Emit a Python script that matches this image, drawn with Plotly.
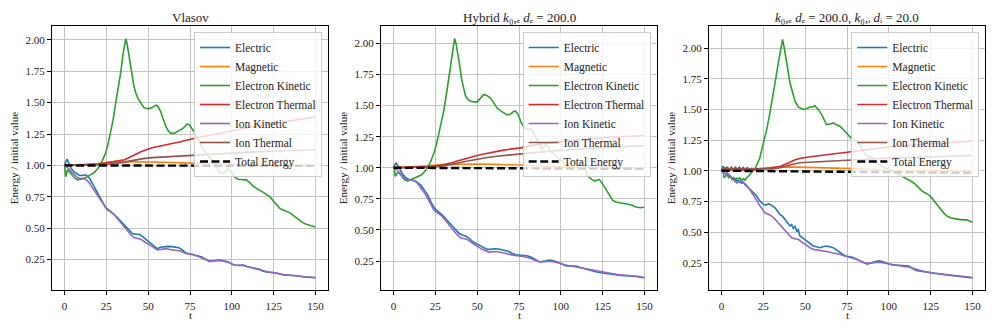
import plotly.graph_objects as go

# ---------------- data (t, energy / initial value) ----------------
TITLES = ["Vlasov",
          "Hybrid <i>k</i>₀,ₑ <i>d</i>ₑ = 200.0",
          "<i>k</i>₀,ₑ <i>d</i>ₑ = 200.0, <i>k</i>₀,ᵢ <i>d</i>ᵢ = 20.0"]
SERIES_NAMES = ["Electric", "Magnetic", "Electron Kinetic", "Electron Thermal",
                "Ion Kinetic", "Ion Thermal", "Total Energy"]
X_LABEL = "t"
Y_LABEL = "Energy / initial value"
X_TICKS = [0, 25, 50, 75, 100, 125, 150]
Y_TICKS = [0.25, 0.50, 0.75, 1.00, 1.25, 1.50, 1.75, 2.00]

# ---- Panel 1: Vlasov ----
vlasov_electric = [(0, 1.0), (0.8, 1.03), (1.5, 1.05), (2.5, 1.02), (3.8, 0.98), (5.5, 0.95), (7.7, 0.93), (9, 0.92),
    (10.7, 0.92), (12.7, 0.925), (14.7, 0.903), (16, 0.875), (17.7, 0.837), (19, 0.80), (20.7, 0.757), (22.5, 0.71),
    (24.6, 0.664), (26.5, 0.645), (28.6, 0.624), (30.5, 0.598), (32.6, 0.571), (34.5, 0.545), (36.5, 0.518),
    (38.5, 0.49), (40.5, 0.457), (42.5, 0.452), (44.5, 0.452), (46.5, 0.435), (48.5, 0.412), (50.5, 0.39),
    (52.4, 0.372), (54, 0.35), (55.4, 0.337), (57.5, 0.348), (59.4, 0.353), (62, 0.355), (64.4, 0.353), (66.5, 0.35),
    (68.4, 0.345), (70.5, 0.325), (72.3, 0.305), (74.5, 0.296), (76.3, 0.292), (78, 0.285), (79.9, 0.279), (82, 0.27),
    (84.5, 0.25), (86.8, 0.234), (89, 0.24), (91, 0.246), (92.8, 0.247), (95, 0.24), (97.7, 0.231), (100, 0.215),
    (101.7, 0.205), (104, 0.205), (106.7, 0.207), (109, 0.195), (111.6, 0.186), (114, 0.18), (116.6, 0.173),
    (118.5, 0.16), (120.6, 0.151), (123, 0.148), (125.6, 0.146), (128.5, 0.135), (131.5, 0.125), (134, 0.127),
    (137.5, 0.125), (140, 0.12), (143.4, 0.112), (146.5, 0.107), (150, 0.106)]
vlasov_magnetic = [(0, 1.0), (10, 1.003), (20, 1.015), (25, 1.025), (30, 1.03), (35, 1.03), (40, 1.03), (50, 1.03),
    (60, 1.025), (70, 1.02), (80, 1.015), (90, 1.01), (100, 1.008), (110, 1.005), (120, 1.003), (130, 1.002),
    (140, 1.0), (150, 1.0)]
vlasov_electron_kinetic = [(0, 1.00), (0.7, 0.91), (1.8, 0.965), (4, 0.93), (6, 0.90), (7.7, 0.885), (10, 0.89),
    (12.7, 0.903), (15, 0.92), (17.7, 0.943), (19.5, 0.97), (21.6, 1.01), (23, 1.05), (24.6, 1.10), (26, 1.17),
    (27.6, 1.26), (29, 1.36), (30.6, 1.50), (32, 1.61), (33.6, 1.74), (35, 1.89), (35.6, 1.94), (36.7, 2.01),
    (37.5, 1.96), (38.5, 1.87), (39.5, 1.79), (40.5, 1.71), (41.5, 1.63), (42.5, 1.58), (44, 1.53), (45.5, 1.50),
    (47.5, 1.46), (49.9, 1.45), (52.4, 1.46), (54, 1.475), (55, 1.48), (56, 1.465), (57.4, 1.43), (59, 1.37),
    (60.4, 1.315), (62, 1.275), (63.4, 1.257), (65, 1.255), (66.3, 1.26), (68, 1.275), (70.3, 1.29), (72, 1.31),
    (73.3, 1.33), (74.5, 1.325), (75.9, 1.30), (77.9, 1.26), (79.5, 1.21), (81.8, 1.155), (83.8, 1.11),
    (85.8, 1.076), (87.8, 1.05), (89.8, 1.02), (91.5, 0.97), (92.8, 0.945), (94.8, 0.935), (96.5, 0.955),
    (97.7, 0.97), (99, 0.96), (100.7, 0.93), (102, 0.905), (103.7, 0.89), (106, 0.885), (108.7, 0.885),
    (110.5, 0.865), (112.6, 0.837), (115, 0.815), (117.6, 0.797), (120, 0.775), (122.6, 0.751), (124.5, 0.72),
    (126.5, 0.69), (128.5, 0.66), (130.5, 0.645), (132.5, 0.635), (134.5, 0.624), (136.5, 0.605), (138.4, 0.584),
    (140.5, 0.56), (142.4, 0.544), (144.5, 0.532), (146.4, 0.526), (148.3, 0.518), (150, 0.51)]
vlasov_electron_thermal = [(0, 1.0), (10, 1.003), (20, 1.01), (25, 1.02), (30, 1.03), (33, 1.035), (36, 1.045),
    (39, 1.065), (42.5, 1.09), (46, 1.11), (52.4, 1.14), (60, 1.16), (65, 1.175), (70, 1.19), (76, 1.21),
    (85, 1.235), (95, 1.265), (105, 1.29), (115, 1.315), (125, 1.335), (135, 1.355), (142, 1.37), (150, 1.385)]
vlasov_ion_kinetic = [(0, 1.0), (2, 0.98), (4.7, 0.94), (7.7, 0.903), (9.5, 0.895), (11.7, 0.895), (13, 0.885),
    (14.7, 0.863), (16.5, 0.825), (18.7, 0.783), (20.5, 0.745), (22.6, 0.704), (25.6, 0.646), (27.5, 0.63),
    (29.6, 0.611), (31.5, 0.58), (33.6, 0.544), (35.5, 0.51), (37.5, 0.478), (39.5, 0.45), (41.5, 0.425),
    (43.5, 0.42), (45.5, 0.412), (48, 0.39), (50.4, 0.372), (53, 0.35), (55.4, 0.327), (57.5, 0.333),
    (60.4, 0.337), (63, 0.33), (65.4, 0.327), (67.5, 0.324), (69.3, 0.319), (71.5, 0.305), (73.3, 0.297),
    (76.3, 0.292), (79, 0.28), (82, 0.265), (84.5, 0.25), (87, 0.238), (90, 0.24), (92.8, 0.243), (95, 0.238),
    (97.7, 0.23), (100, 0.215), (102, 0.205), (104.5, 0.203), (107, 0.203), (109.5, 0.193), (112, 0.186),
    (114.5, 0.18), (117, 0.172), (119.5, 0.16), (122, 0.152), (125, 0.147), (128, 0.14), (131, 0.13),
    (134, 0.127), (137.5, 0.125), (140, 0.118), (143.4, 0.113), (146.5, 0.11), (150, 0.108)]
vlasov_ion_thermal = [(0, 1.0), (10, 1.0), (20, 1.005), (25, 1.01), (30, 1.015), (34.6, 1.022), (38, 1.032),
    (42.5, 1.044), (47, 1.054), (52.4, 1.062), (60, 1.068), (68, 1.075), (76, 1.08), (85, 1.088), (95, 1.096),
    (105, 1.102), (115, 1.108), (125, 1.113), (135, 1.117), (150, 1.123)]
vlasov_total = [(0, 1.0), (25, 1.0), (50, 0.999), (75, 0.998), (100, 0.997), (125, 0.997), (150, 0.996)]

# ---- Panel 2: Hybrid k0e de = 200 ----
hybrid_electric = [(0, 1.0), (0.7, 1.02), (1.4, 1.04), (2.4, 1.02), (3.4, 1.0), (5, 0.955), (7.3, 0.92),
    (9.3, 0.905), (11.3, 0.90), (13.5, 0.89), (16.3, 0.86), (18.3, 0.825), (20.2, 0.786), (22.2, 0.73),
    (24.2, 0.68), (25.7, 0.66), (27.2, 0.644), (29.2, 0.62), (31.2, 0.59), (33.2, 0.56), (35.1, 0.531),
    (37.1, 0.50), (39.1, 0.473), (41, 0.46), (43, 0.451), (45, 0.435), (47, 0.41), (49.5, 0.39), (52, 0.37),
    (54, 0.355), (56, 0.344), (58.5, 0.346), (60.9, 0.349), (63.4, 0.345), (65.9, 0.339), (68.4, 0.328),
    (70.8, 0.312), (73, 0.3), (76.4, 0.296), (78.4, 0.293), (80.4, 0.29), (82.4, 0.28), (84.8, 0.26),
    (87.3, 0.242), (90.3, 0.25), (93.3, 0.258), (96.2, 0.25), (99.2, 0.236), (101.2, 0.222), (103.2, 0.21),
    (106.2, 0.21), (109.1, 0.21), (111.6, 0.198), (114.1, 0.188), (116.5, 0.178), (119, 0.17), (121.5, 0.162),
    (124, 0.156), (127, 0.15), (130, 0.143), (133, 0.138), (136, 0.135), (139, 0.132), (141.9, 0.13),
    (145, 0.125), (147.5, 0.12), (150, 0.116)]
hybrid_magnetic = [(0, 1.0), (10, 1.005), (20, 1.015), (30, 1.025), (40, 1.03), (50, 1.03), (60, 1.027),
    (70, 1.025), (80, 1.02), (90, 1.012), (100, 1.005), (110, 1.003), (120, 1.0), (135, 0.998), (150, 0.997)]
hybrid_electron_kinetic = [(0, 1.0), (0.5, 0.99), (1, 0.93), (2, 0.955), (3.4, 0.96), (5, 0.93), (6.5, 0.905),
    (8.3, 0.893), (10.3, 0.905), (12.3, 0.912), (14.3, 0.925), (16.3, 0.94), (18.3, 0.965), (20.2, 1.0),
    (22.2, 1.05), (24.2, 1.12), (25.7, 1.19), (27.2, 1.28), (28.7, 1.37), (30.2, 1.47), (31.7, 1.6), (33.1, 1.74),
    (34.5, 1.87), (35.5, 1.95), (36.5, 2.04), (37.5, 1.99), (38.5, 1.92), (39.6, 1.82), (40.7, 1.71), (42, 1.63),
    (43, 1.58), (44.5, 1.55), (46, 1.535), (48, 1.53), (50, 1.53), (52, 1.56), (54, 1.59), (56, 1.58),
    (57.9, 1.56), (60, 1.52), (61.9, 1.48), (63.9, 1.46), (65.9, 1.44), (67.8, 1.425), (69.8, 1.43),
    (71.5, 1.45), (72.8, 1.456), (74.4, 1.43), (76.4, 1.36), (78.4, 1.32), (80.3, 1.31), (82.3, 1.31),
    (84.3, 1.26), (86.3, 1.215), (88.3, 1.15), (89.8, 1.17), (91.3, 1.19), (92.8, 1.16), (94.2, 1.126),
    (96.2, 1.11), (98.2, 1.08), (100.7, 1.05), (103.2, 1.02), (104.7, 1.025), (106.2, 1.04), (108.2, 1.055),
    (110.1, 1.062), (111.6, 1.055), (113.1, 1.04), (114.6, 0.98), (116.1, 0.933), (118.1, 0.91), (120.1, 0.893),
    (121.5, 0.9), (123, 0.907), (125, 0.87), (127, 0.826), (129, 0.78), (131, 0.738), (132.9, 0.725),
    (134.9, 0.719), (137.4, 0.712), (139.9, 0.706), (142.4, 0.7), (144.8, 0.684), (147.5, 0.678), (150, 0.683)]
hybrid_electron_thermal = [(0, 1.0), (10, 1.002), (20, 1.008), (28, 1.02), (32, 1.03), (35, 1.04), (38, 1.055),
    (41, 1.067), (45, 1.08), (49, 1.094), (54, 1.11), (59, 1.126), (65, 1.14), (70, 1.15), (76, 1.16), (83, 1.18),
    (90.3, 1.196), (100, 1.21), (110, 1.225), (120, 1.235), (130, 1.245), (140, 1.252), (150, 1.26)]
hybrid_ion_kinetic = [(0, 1.0), (2, 0.985), (4, 0.95), (7.3, 0.907), (9.8, 0.9), (12.3, 0.9), (14.3, 0.875),
    (16.3, 0.84), (18.3, 0.80), (20.2, 0.76), (22.2, 0.71), (24.2, 0.658), (26.2, 0.638), (28.2, 0.62),
    (30.2, 0.59), (32.1, 0.558), (34.1, 0.525), (36.1, 0.491), (38.1, 0.46), (40.1, 0.437), (42, 0.428),
    (44, 0.424), (46, 0.405), (48, 0.384), (50.5, 0.365), (53, 0.344), (55, 0.33), (57, 0.322), (59.5, 0.324),
    (61.9, 0.325), (64.4, 0.318), (66.9, 0.309), (69.4, 0.303), (71.8, 0.296), (74, 0.293), (76.4, 0.29),
    (79, 0.283), (82, 0.27), (84.5, 0.255), (87.3, 0.242), (90.3, 0.245), (93.3, 0.248), (96.2, 0.243),
    (99.2, 0.235), (102, 0.22), (105, 0.212), (108, 0.208), (111, 0.2), (114, 0.193), (117, 0.182), (120, 0.172),
    (123, 0.163), (126, 0.157), (129, 0.15), (132, 0.145), (135, 0.14), (138, 0.137), (141, 0.135), (144, 0.13),
    (147, 0.125), (150, 0.118)]
hybrid_ion_thermal = [(0, 1.0), (10, 1.0), (20, 1.005), (28, 1.012), (32, 1.02), (35, 1.027), (42, 1.048),
    (49, 1.067), (56, 1.082), (63, 1.095), (70, 1.105), (76.4, 1.11), (85, 1.125), (95, 1.135), (105, 1.145),
    (115, 1.155), (125, 1.162), (135, 1.168), (150, 1.178)]
hybrid_total = [(0, 1.0), (25, 0.999), (50, 0.997), (75, 0.995), (100, 0.993), (125, 0.992), (150, 0.991)]

# ---- Panel 3: k0e de = 200, k0i di = 20 ----
full_electric = [(0, 1.0), (0.8, 1.04), (1.5, 1.0), (2.3, 1.03), (3.2, 0.983), (4.2, 0.97), (5.2, 0.95),
    (6.2, 0.94), (7.2, 0.93), (8.2, 0.935), (9.2, 0.915), (10.2, 0.925), (11.1, 0.905), (12.1, 0.90),
    (13.1, 0.905), (14.1, 0.885), (15.1, 0.875), (16.6, 0.855), (18.1, 0.834), (19.6, 0.81), (21.1, 0.793),
    (22.5, 0.76), (24, 0.735), (25, 0.726), (26.5, 0.72), (28, 0.73), (29, 0.726), (30.5, 0.71), (32, 0.698),
    (33.5, 0.67), (34.9, 0.644), (36.4, 0.63), (37.9, 0.604), (39.4, 0.58), (40.9, 0.55), (41.9, 0.56),
    (42.9, 0.53), (43.9, 0.545), (44.9, 0.51), (45.9, 0.52), (46.8, 0.468), (48.3, 0.455), (49.8, 0.44),
    (50.8, 0.427), (52.8, 0.405), (54.8, 0.387), (56.7, 0.38), (58.7, 0.373), (60.7, 0.38), (62.7, 0.387),
    (64.7, 0.38), (66.7, 0.373), (68.7, 0.355), (70.7, 0.332), (72.5, 0.318), (74.2, 0.305), (76.2, 0.3),
    (78.2, 0.295), (80.2, 0.283), (82.5, 0.27), (85, 0.252), (87.1, 0.238), (89.5, 0.25), (92, 0.26),
    (94, 0.265), (96, 0.26), (98, 0.25), (100, 0.238), (102, 0.232), (104, 0.232), (106, 0.23), (109, 0.227),
    (111.9, 0.224), (114, 0.205), (116, 0.19), (117.9, 0.183), (120, 0.178), (121.9, 0.176), (123.8, 0.175),
    (126, 0.168), (129, 0.162), (131.8, 0.156), (134.5, 0.15), (137, 0.145), (139.7, 0.14), (142.5, 0.138),
    (145, 0.135), (147.5, 0.13), (150, 0.127)]
full_magnetic = [(0, 1.0), (5, 1.003), (10, 1.005), (15, 1.008), (20, 1.015), (25, 1.022), (30, 1.028),
    (35, 1.03), (40, 1.032), (45, 1.03), (55, 1.028), (65, 1.025), (74, 1.024), (85, 1.015), (95, 1.008),
    (105, 1.002), (115, 1.0), (130, 0.999), (150, 0.997)]
full_electron_kinetic = [(0, 1.0), (0.8, 1.01), (1.6, 0.942), (2.4, 0.96), (3.2, 0.97), (4.2, 0.945),
    (5.2, 0.955), (6.2, 0.93), (7.2, 0.945), (8.2, 0.923), (9.2, 0.94), (10.2, 0.935), (11.1, 0.942),
    (12.1, 0.92), (13.1, 0.935), (14.1, 0.923), (15.1, 0.945), (16.1, 0.955), (17.1, 0.97), (18.6, 0.99),
    (20.1, 1.02), (21.5, 1.06), (22.8, 1.1), (24, 1.17), (25.5, 1.25), (27, 1.336), (28.5, 1.44), (30, 1.55),
    (31.5, 1.68), (33, 1.80), (34.2, 1.90), (35.4, 2.01), (36.5, 2.07), (37.5, 2.0), (38.5, 1.93), (39.7, 1.82),
    (40.9, 1.715), (42.4, 1.63), (43.9, 1.57), (45.8, 1.52), (47, 1.51), (48.8, 1.50), (50.8, 1.505),
    (52.8, 1.52), (54.3, 1.52), (55.8, 1.53), (57.8, 1.50), (59.8, 1.46), (61.2, 1.42), (62.7, 1.377),
    (64.7, 1.38), (66.7, 1.39), (68.7, 1.375), (70.7, 1.363), (72.5, 1.34), (74.2, 1.314), (76.2, 1.28),
    (78.2, 1.255), (80.2, 1.245), (82.1, 1.227), (84.1, 1.18), (86.1, 1.13), (88.1, 1.115), (90.1, 1.11),
    (92, 1.08), (94, 1.05), (96, 1.035), (98, 1.024), (100, 1.01), (102, 0.997), (104, 0.985), (106, 0.97),
    (108.5, 0.952), (111, 0.934), (113.5, 0.912), (115.9, 0.889), (117.9, 0.862), (119.9, 0.834),
    (122.4, 0.815), (124.8, 0.793), (126.8, 0.76), (128.8, 0.726), (130.7, 0.69), (132.7, 0.657),
    (134.7, 0.632), (136.7, 0.617), (139.2, 0.61), (141.7, 0.604), (144, 0.6), (146.6, 0.6), (148.5, 0.592),
    (150, 0.58)]
full_electron_thermal = [(0, 1.0), (1, 1.01), (2.2, 1.0), (3.4, 1.015), (4.6, 1.0), (5.8, 1.015), (7, 1.0),
    (8.2, 1.015), (9.4, 1.0), (10.6, 1.015), (11.8, 1.0), (13, 1.012), (14.2, 1.0), (15.4, 1.01), (16.6, 1.0),
    (20, 1.005), (25, 1.012), (30, 1.025), (35.3, 1.037), (38, 1.05), (40.9, 1.07), (44, 1.09), (46.8, 1.10),
    (52, 1.112), (58.7, 1.124), (65, 1.135), (70, 1.142), (76.2, 1.15), (85, 1.165), (95, 1.185), (104, 1.2),
    (115, 1.21), (125, 1.22), (135, 1.228), (150, 1.24)]
full_ion_kinetic = [(0, 1.0), (2, 0.98), (3.5, 0.965), (5.2, 0.956), (6.5, 0.93), (7.5, 0.92), (9.2, 0.90),
    (10.5, 0.91), (12, 0.92), (13.5, 0.9), (15.1, 0.88), (17, 0.845), (19, 0.807), (21, 0.76), (23, 0.712),
    (24.5, 0.68), (26, 0.657), (28, 0.645), (30, 0.63), (32, 0.605), (33.9, 0.576), (36, 0.54), (37.9, 0.508),
    (39.9, 0.48), (41.9, 0.454), (43.8, 0.445), (45.8, 0.441), (47.8, 0.42), (49.8, 0.40), (51.8, 0.38),
    (53.8, 0.364), (55.7, 0.357), (57.7, 0.354), (59.7, 0.35), (61.7, 0.346), (63.7, 0.34), (65.7, 0.332),
    (68.2, 0.326), (70.7, 0.319), (73.5, 0.305), (76.2, 0.297), (78.2, 0.29), (80.2, 0.28), (83, 0.265),
    (85.5, 0.25), (87.5, 0.245), (90.5, 0.25), (94, 0.255), (97, 0.248), (100, 0.24), (103, 0.23), (106, 0.225),
    (109, 0.22), (112, 0.215), (115, 0.2), (118, 0.19), (121, 0.18), (124, 0.17), (127, 0.165), (130, 0.16),
    (134, 0.152), (138, 0.145), (141, 0.143), (144, 0.14), (147, 0.135), (150, 0.13)]
full_ion_thermal = [(0, 1.0), (1, 1.025), (2.2, 1.015), (3.4, 1.03), (4.6, 1.012), (5.8, 1.03), (7, 1.012),
    (8.2, 1.03), (9.4, 1.012), (10.6, 1.03), (11.8, 1.012), (13, 1.028), (14.2, 1.012), (15.4, 1.026),
    (16.6, 1.012), (18, 1.02), (20, 1.015), (25, 1.012), (30, 1.015), (35.3, 1.024), (40, 1.045), (46.8, 1.065),
    (55, 1.072), (65, 1.078), (76.2, 1.084), (85, 1.092), (95, 1.1), (105, 1.105), (115, 1.11), (125, 1.115),
    (135, 1.118), (150, 1.124)]
full_total = [(0, 1.0), (25, 0.998), (50, 0.995), (74, 0.99), (100, 0.987), (125, 0.985), (150, 0.983)]

PANELS = [
    [vlasov_electric, vlasov_magnetic, vlasov_electron_kinetic, vlasov_electron_thermal,
     vlasov_ion_kinetic, vlasov_ion_thermal, vlasov_total],
    [hybrid_electric, hybrid_magnetic, hybrid_electron_kinetic, hybrid_electron_thermal,
     hybrid_ion_kinetic, hybrid_ion_thermal, hybrid_total],
    [full_electric, full_magnetic, full_electron_kinetic, full_electron_thermal,
     full_ion_kinetic, full_ion_thermal, full_total],
]

# ---------------- styling ----------------
W, H = 997, 332
COLORS = ["#1f77b4", "#ff7f0e", "#2ca02c", "#d62728", "#9467bd", "#8c564b", "black"]
FONT = "Liberation Serif, DejaVu Serif, serif"
X_RANGE = [-7.5, 157.5]
Y_RANGES = [[0.008, 2.11], [0.017, 2.14], [0.028, 2.18]]
X_DOMAINS_PX = [(52, 328), (381, 657), (709, 985)]
Y_DOMAIN_PX = (26, 290)
X_LABEL_TOP_PX = 308
LEGEND_RIGHT_PX = [322, 650.7, 979.3]
LEGEND_TOP_PX = 32

fig = go.Figure()
ydom = [1 - Y_DOMAIN_PX[1] / H, 1 - Y_DOMAIN_PX[0] / H]

for p, series in enumerate(PANELS):
    sfx = "" if p == 0 else str(p + 1)
    leg = "legend" if p == 0 else f"legend{p + 1}"
    for i, (name, data) in enumerate(zip(SERIES_NAMES, series)):
        ts = [d[0] for d in data]
        vs = [d[1] for d in data]
        is_total = name == "Total Energy"
        fig.add_trace(go.Scatter(
            x=ts, y=vs, mode="lines", name=name,
            line=dict(color=COLORS[i], width=2.4 if is_total else 1.6,
                      dash="8px,3.5px" if is_total else "solid"),
            xaxis="x" + sfx, yaxis="y" + sfx, legend=leg, showlegend=True,
        ))
    xd = [X_DOMAINS_PX[p][0] / W, X_DOMAINS_PX[p][1] / W]
    axis_common = dict(showline=True, linecolor="black", linewidth=1, mirror=True,
                       ticks="outside", ticklen=4, tickwidth=1, tickcolor="black",
                       showgrid=True, gridcolor="#c4c4c4", gridwidth=1, zeroline=False,
                       automargin=True,
                       tickfont=dict(family=FONT, size=11, color="#222"))
    fig.layout["xaxis" + sfx] = dict(domain=xd, range=X_RANGE, tickvals=X_TICKS,
                                     anchor="y" + sfx, ticklabelstandoff=2,
                                     **axis_common)
    fig.layout["yaxis" + sfx] = dict(domain=ydom, range=Y_RANGES[p], tickvals=Y_TICKS,
                                     tickformat=".2f", anchor="x" + sfx,
                                     title=dict(text=Y_LABEL,
                                                font=dict(family=FONT, size=11, color="#222"), standoff=4),
                                     **axis_common)
    fig.layout[leg] = dict(x=LEGEND_RIGHT_PX[p] / W, y=1 - LEGEND_TOP_PX / H, xanchor="right", yanchor="top",
                           xref="paper", yref="paper",
                           bgcolor="rgba(255,255,255,0.8)", bordercolor="#cccccc", borderwidth=1,
                           font=dict(family=FONT, size=11.5, color="#222"), itemwidth=30,
                           tracegroupgap=0)
    fig.add_annotation(text=TITLES[p], x=(xd[0] + xd[1]) / 2, y=ydom[1], xref="paper", yref="paper",
                       xanchor="center", yanchor="bottom", yshift=-1, showarrow=False,
                       font=dict(family=FONT, size=13, color="#222"))
    # x-axis label placed as an annotation just below the tick labels
    fig.add_annotation(text=X_LABEL, x=(xd[0] + xd[1]) / 2, y=1 - X_LABEL_TOP_PX / H,
                       xref="paper", yref="paper", xanchor="center", yanchor="top", borderpad=0,
                       showarrow=False, font=dict(family=FONT, size=11, color="#222"))

fig.update_layout(width=W, height=H, margin=dict(l=0, r=0, t=0, b=0, autoexpand=False),
                  paper_bgcolor="white", plot_bgcolor="white", showlegend=True)

fig.write_html("out.html", config={"displayModeBar": False},
               post_script="document.body.style.margin='0';document.body.style.overflow='hidden';")
